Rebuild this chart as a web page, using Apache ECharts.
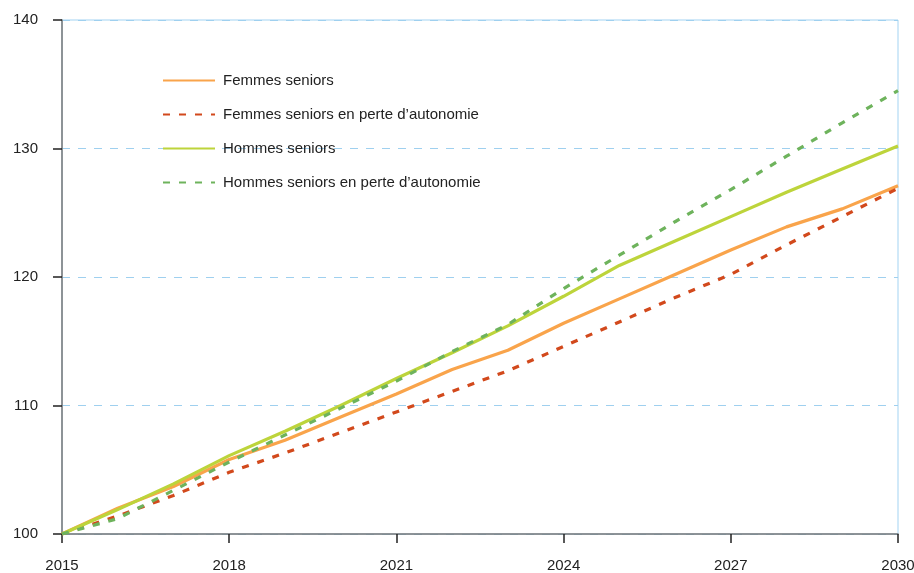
<!DOCTYPE html>
<html>
<head>
<meta charset="utf-8">
<script src="https://cdn.jsdelivr.net/npm/echarts@6/dist/echarts.min.js"></script>
<style>
  html, body { margin: 0; padding: 0; background: #fff; }
  #chart { width: 914px; height: 573px; }
</style>
</head>
<body>
<div id="chart"></div>
<script>
// années
const years = ['2015', '2016', '2017', '2018', '2019', '2020', '2021', '2022',
  '2023', '2024', '2025', '2026', '2027', '2028', '2029', '2030']

// indices base 100 en 2015
const femmes = [100, 102.0, 103.7, 105.8, 107.3, 109.1, 110.9, 112.8,
  114.3, 116.4, 118.3, 120.2, 122.1, 123.9, 125.3, 127.1]
const femmesPerte = [100, 101.4, 103.0, 104.8, 106.3, 107.9, 109.5, 111.1,
  112.7, 114.6, 116.5, 118.4, 120.2, 122.5, 124.7, 126.9]
const hommes = [100, 101.9, 103.9, 106.1, 108.0, 110.0, 112.1, 114.1,
  116.2, 118.5, 120.9, 122.8, 124.7, 126.6, 128.4, 130.2]
const hommesPerte = [100, 101.2, 103.4, 105.6, 107.7, 109.8, 111.9, 114.2,
  116.3, 119.1, 121.7, 124.3, 126.8, 129.4, 132.0, 134.5]

const font = 'Liberation Sans, Arial, sans-serif'

function serie(name, data, color, dashed) {
  return {
    name: name,
    type: 'line',
    data: data,
    symbol: 'none',
    smooth: false,
    lineStyle: {
      color: color,
      width: 3.2,
      type: dashed ? [7, 9] : 'solid'
    },
    itemStyle: { color: color }
  }
}

const chart = echarts.init(document.getElementById('chart'))
chart.setOption({
  animation: false,
  textStyle: { fontFamily: font },
  grid: {
    left: 62,
    right: 16,
    top: 20,
    bottom: 39,
    outerBoundsMode: 'none',
    containLabel: false,
    show: true,
    borderColor: '#a3d3f2',
    borderWidth: 1
  },
  legend: {
    orient: 'vertical',
    left: 157,
    top: 68,
    itemWidth: 52,
    itemHeight: 14,
    itemGap: 19,
    itemStyle: { opacity: 0 },
    textStyle: { fontSize: 15, color: '#222', fontFamily: font, padding: [0, 0, 0, 3] },
    data: ['Femmes seniors', 'Femmes seniors en perte d\u2019autonomie',
      'Hommes seniors', 'Hommes seniors en perte d\u2019autonomie']
  },
  xAxis: {
    type: 'category',
    boundaryGap: false,
    data: years,
    axisLine: { lineStyle: { color: '#777', width: 1.5 } },
    axisTick: { interval: 2, length: 9, lineStyle: { color: '#222', width: 1.5 } },
    axisLabel: { interval: 2, fontSize: 15, color: '#222', margin: 24 },
    splitLine: { show: false }
  },
  yAxis: {
    type: 'value',
    min: 100,
    max: 140,
    interval: 10,
    axisLine: { show: true, lineStyle: { color: '#777', width: 1.5 } },
    axisTick: { show: true, length: 9, lineStyle: { color: '#222', width: 1.5 } },
    axisLabel: { fontSize: 15, color: '#222', margin: 24 },
    splitLine: { lineStyle: { color: '#9fd0ef', type: [8, 8], width: 1 } }
  },
  series: [
    serie('Femmes seniors', femmes, '#f9a44b', false),
    serie('Femmes seniors en perte d\u2019autonomie', femmesPerte, '#d2491c', true),
    serie('Hommes seniors', hommes, '#bdd43b', false),
    serie('Hommes seniors en perte d\u2019autonomie', hommesPerte, '#6eb35c', true)
  ]
})
</script>
</body>
</html>
